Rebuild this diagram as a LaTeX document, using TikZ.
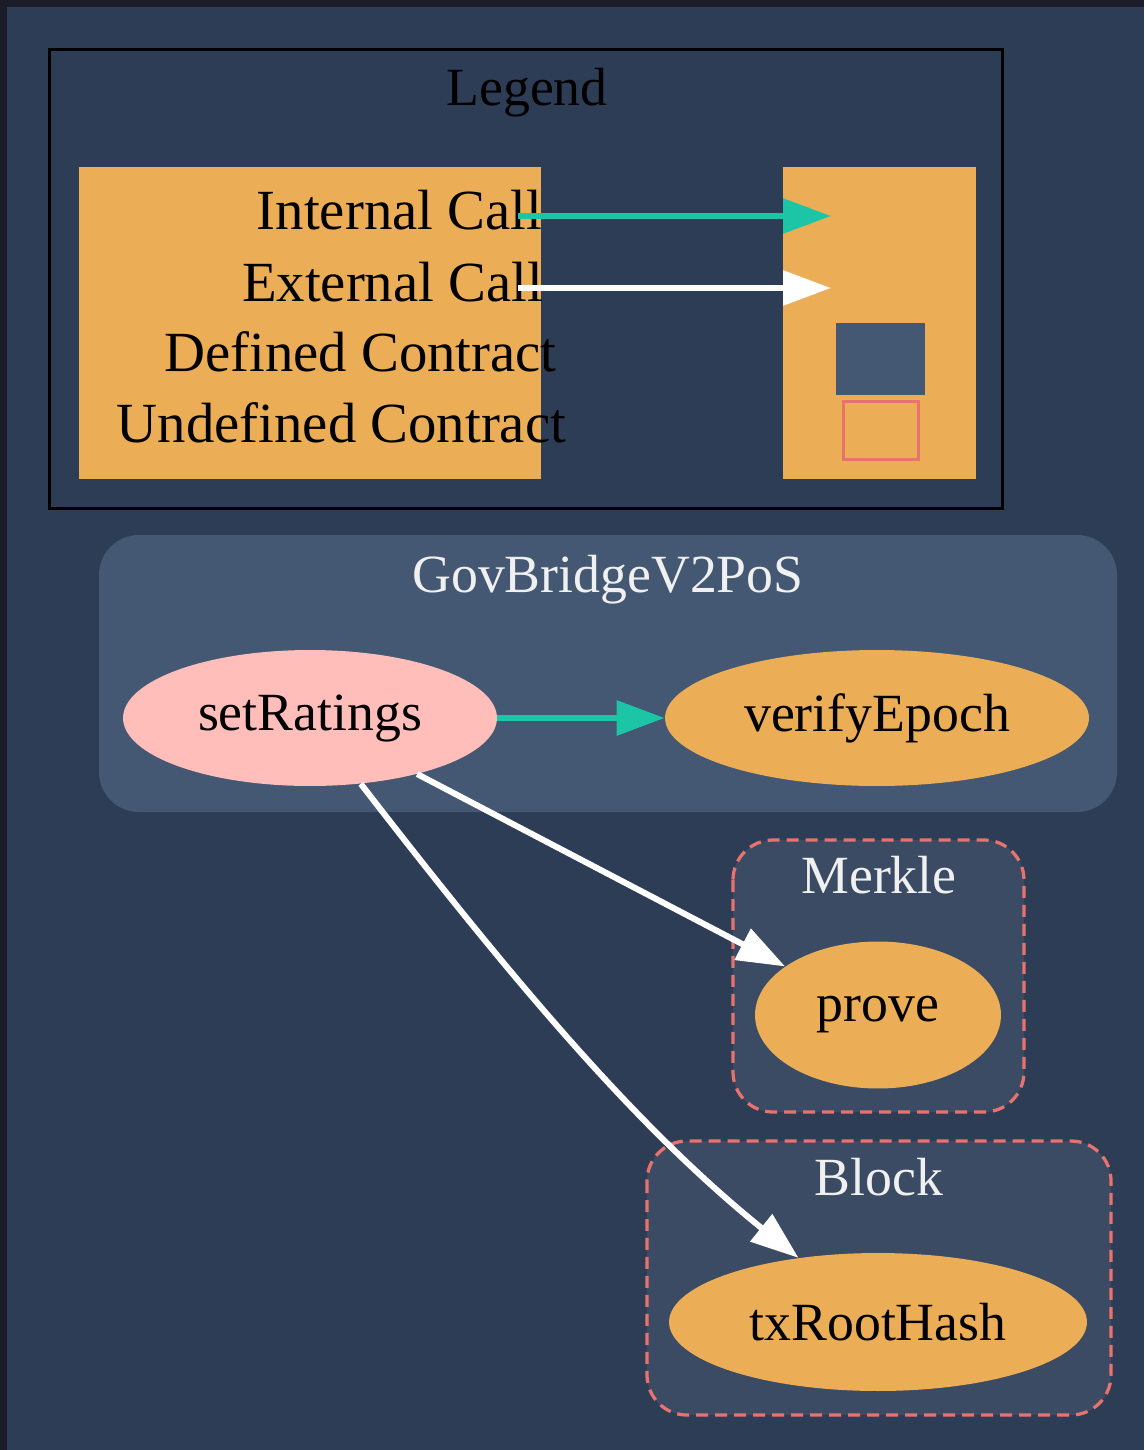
\documentclass[tikz,border=0pt]{standalone}
\usepackage{fontspec}
\setmainfont{Liberation Serif}
\usetikzlibrary{shapes.geometric,arrows.meta}
\definecolor{pagedark}{HTML}{1C1B2A}
\definecolor{canvas}{HTML}{2E3D56}
\definecolor{contractfill}{HTML}{445773}
\definecolor{libfill}{HTML}{3B4B64}
\definecolor{fnorange}{HTML}{EBAD55}
\definecolor{fnpink}{HTML}{FFBEBA}
\definecolor{intcall}{HTML}{1BC5A5}
\definecolor{undefred}{HTML}{E8726D}
\definecolor{titlegrey}{HTML}{F0F0F0}
\begin{document}
\begin{tikzpicture}[x=0.02cm,y=-0.02cm,
  every node/.style={font=\fontsize{30.6}{36}\selectfont,inner sep=0pt},
  keylbl/.style={anchor=base,font=\fontsize{32.3}{38}\selectfont},
  fn/.style={ellipse,fill=fnorange,text=black},
  ext/.style={-{Triangle[length=0.96cm,width=0.68cm]},draw=white,line width=0.12cm},
  int/.style={ext,draw=intcall},
  lib/.style={draw=undefred,fill=libfill,line width=0.065cm,dash pattern=on 0.24cm off 0.14cm,rounded corners=0.8cm},
  title/.style={text=titlegrey,anchor=base}]
\useasboundingbox (0,0) rectangle (1144,1450);
\fill [pagedark] (0,0) rectangle (1144,1450);
\fill [canvas] (7,7) rectangle (1144,1450);
% legend
\draw [black,line width=0.06cm] (49,49) rectangle (1002,508);
\node [anchor=base] (legendtitle) at (527,105) {Legend};
\fill [fnorange] (79,167) rectangle (541,479);
\fill [fnorange] (783,167) rectangle (976,479);
\node [keylbl] (intlbl) at (399.5,229) {Internal Call};
\node [keylbl] (extlbl) at (392.5,301) {External Call};
\node [keylbl] (deflbl) at (360.5,371) {Defined Contract};
\node [keylbl] (undeflbl) at (341.5,442) {Undefined Contract};
\coordinate (intfrom) at (518,216);
\coordinate (intto) at (831,216);
\coordinate (extfrom) at (518,288);
\coordinate (extto) at (831,288);
\draw [int] (intfrom) -- (intto);
\draw [ext] (extfrom) -- (extto);
\fill [contractfill] (836,323) rectangle (925,395);
\draw [undefred,line width=0.06cm] (843.5,401.5) rectangle (918.5,459.5);
% contract clusters
\fill [contractfill,rounded corners=0.8cm] (99,535) rectangle (1117,812);
\node [title] (govtitle) at (608,592) {GovBridgeV2PoS};
\draw [lib] (733,840) rectangle (1024,1112);
\node [title] (merkletitle) at (879,893) {Merkle};
\draw [lib] (647,1141) rectangle (1111,1415);
\node [title] (blocktitle) at (879,1195) {Block};
% functions
\node [fn,fill=fnpink,minimum width=7.48cm,minimum height=2.72cm] (setratings) at (310,718) {setRatings};
\node [fn,minimum width=8.48cm,minimum height=2.72cm] (verifyepoch) at (877,718) {verifyEpoch};
\node [fn,minimum width=4.92cm,minimum height=2.94cm] (prove) at (878,1015) {prove};
\node [fn,minimum width=8.36cm,minimum height=2.76cm] (txroothash) at (878,1322) {txRootHash};
% calls
\draw [int] (setratings) -- (verifyepoch);
\draw [ext] (setratings) -- (prove);
\draw [ext] (setratings) .. controls (520,990) and (640,1130) .. (txroothash);
\end{tikzpicture}
\end{document}
